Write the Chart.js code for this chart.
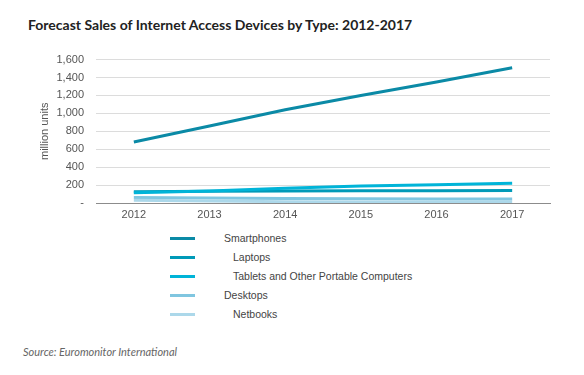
<!DOCTYPE html>
<html>
<head>
<meta charset="utf-8">
<script src="https://cdn.jsdelivr.net/npm/chart.js@4"></script>
<style>
  body { margin: 0; background: #fff; }
  #wrap { position: relative; width: 584px; height: 375px; overflow: hidden; }
  #title { position: absolute; left: 28px; top: 16px; font: bold 14px Lato, sans-serif; color: #222; white-space: nowrap; }
  #box { position: absolute; left: 0; top: 41px; width: 584px; height: 184px; }
  #legend { position: absolute; left: 170px; top: 229px; font: 10.5px "Liberation Sans", Arial, sans-serif; color: #444; }
  .row { height: 19px; position: relative; }
  .swatch { position: absolute; left: 0; top: 8px; width: 25px; height: 3px; }
  .lbl { position: absolute; top: 3px; white-space: pre; }
  #source { position: absolute; left: 23px; top: 345px; font: italic 11px Lato, sans-serif; color: #666; }
</style>
</head>
<body>
<div id="wrap">
  <div id="title">Forecast Sales of Internet Access Devices by Type: 2012-2017</div>
  <div id="box"><canvas id="myChart"></canvas></div>
  <div id="legend"></div>
  <div id="source">Source: Euromonitor International</div>
</div>
<script>
const years = ["2012", "2013", "2014", "2015", "2016", "2017"];
const seriesNames = ["Smartphones", "Laptops", "Tablets and Other Portable Computers", "Desktops", "Netbooks"];
const smartphones = [680, 860, 1040, 1200, 1350, 1510];
const laptops = [125, 130, 133, 136, 138, 140];
const tablets = [115, 135, 165, 190, 205, 220];
const desktops = [60, 55, 50, 48, 45, 45];
const netbooks = [30, 22, 15, 12, 10, 15];
const yTicks = [0, 200, 400, 600, 800, 1000, 1200, 1400, 1600];

const seriesData = [smartphones, laptops, tablets, desktops, netbooks];
const seriesColors = ["#0b8aa6", "#009ab8", "#00b4d8", "#80c6e0", "#acd8ea"];
const legendIndent = [224, 233, 233, 224, 233];

document.addEventListener("DOMContentLoaded", function(){
    initChart();
    buildLegend();
});

function initChart(){
    const datasets = [];
    // draw the smaller series first so smartphones sits on top like the original
    for (let i = seriesData.length - 1; i >= 0; i--){
        datasets.push({
            label: seriesNames[i],
            data: seriesData[i],
            borderColor: seriesColors[i],
            backgroundColor: seriesColors[i],
            borderWidth: 3,
            pointRadius: 0,
            tension: 0,
            fill: false
        });
    }

    const ctx = document.getElementById("myChart").getContext("2d");
    new Chart(ctx, {
        type: "line",
        data: { labels: years, datasets: datasets },
        options: {
            responsive: true,
            maintainAspectRatio: false,
            animation: false,
            layout: { padding: { top: 6, right: 34, left: 38, bottom: 0 } },
            plugins: { legend: { display: false }, tooltip: { enabled: false } },
            scales: {
                x: {
                    offset: true,
                    grid: { display: false, drawTicks: false },
                    border: { display: true, color: "#8c8c8c", width: 1 },
                    ticks: { color: "#555", font: { family: "Liberation Sans", size: 11 }, padding: 5 },
                    afterFit: function(scale){ scale.height = 22; }
                },
                y: {
                    min: 0,
                    max: 1600,
                    afterBuildTicks: function(scale){ scale.ticks = yTicks.map(v => ({ value: v })); },
                    grid: { color: "#dcdcdc", drawTicks: false },
                    border: { display: false },
                    ticks: {
                        color: "#555",
                        font: { family: "Liberation Sans", size: 11 },
                        padding: 12,
                        callback: function(v){ return v === 0 ? "-" : v.toLocaleString("en-US"); }
                    },
                    title: {
                        display: true,
                        text: "million units",
                        color: "#555",
                        font: { family: "Liberation Sans", size: 11 },
                        padding: { top: 0, bottom: 4 }
                    },
                    afterFit: function(scale){ scale.width = 58; }
                }
            }
        }
    });
}

function buildLegend(){
    const legend = document.getElementById("legend");
    for (let i = 0; i < seriesNames.length; i++){
        const row = document.createElement("div");
        row.className = "row";
        const sw = document.createElement("div");
        sw.className = "swatch";
        sw.style.background = seriesColors[i];
        const lbl = document.createElement("div");
        lbl.className = "lbl";
        lbl.style.left = (legendIndent[i] - 170) + "px";
        lbl.textContent = seriesNames[i];
        row.appendChild(sw);
        row.appendChild(lbl);
        legend.appendChild(row);
    }
}
</script>
</body>
</html>
